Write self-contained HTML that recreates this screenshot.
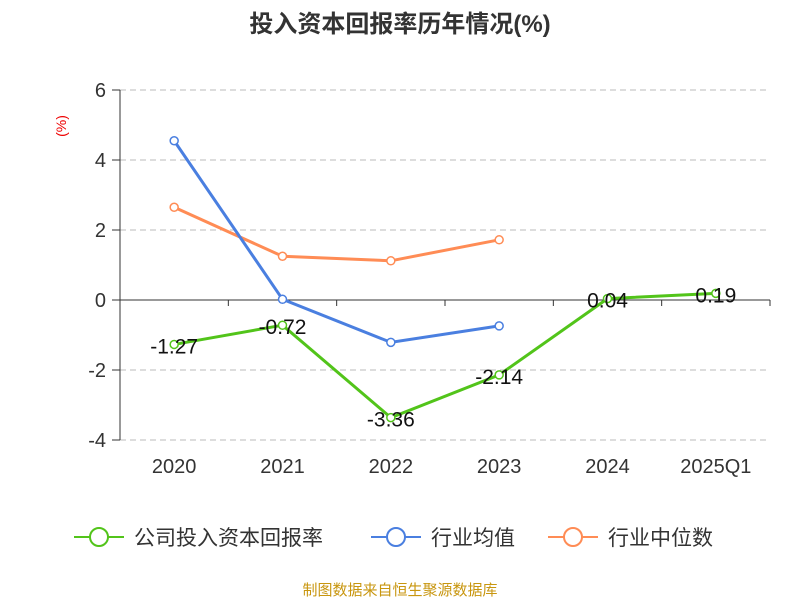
<!DOCTYPE html>
<html><head><meta charset="utf-8"><style>
body{margin:0;background:#fff;font-family:"Liberation Sans","Noto Sans CJK SC",sans-serif}
</style></head><body>
<svg width="800" height="600" xmlns="http://www.w3.org/2000/svg" font-family="Liberation Sans, Noto Sans CJK SC, sans-serif">
<text x="400" y="32" text-anchor="middle" font-size="24" font-weight="bold" fill="#333">投入资本回报率历年情况(%)</text>
<text x="66" y="126" font-size="14" fill="#e00" transform="rotate(-90 66 126)" text-anchor="middle">(%)</text>
<g id="grid"></g><g id="axes"></g><g id="series"></g>
<g>
<g><line x1="74" y1="537" x2="124" y2="537" stroke="#52c41a" stroke-width="2"/><circle cx="99" cy="537" r="9" fill="#fff" stroke="#52c41a" stroke-width="2"/><text x="134" y="545" font-size="21" fill="#333">公司投入资本回报率</text></g>
<g><line x1="371" y1="537" x2="421" y2="537" stroke="#4a7fe0" stroke-width="2"/><circle cx="396" cy="537" r="9" fill="#fff" stroke="#4a7fe0" stroke-width="2"/><text x="431" y="545" font-size="21" fill="#333">行业均值</text></g>
<g><line x1="548" y1="537" x2="598" y2="537" stroke="#ff8c55" stroke-width="2"/><circle cx="573" cy="537" r="9" fill="#fff" stroke="#ff8c55" stroke-width="2"/><text x="608" y="545" font-size="21" fill="#333">行业中位数</text></g>
</g>
<text x="400" y="595" text-anchor="middle" font-size="15" fill="#c8960f">制图数据来自恒生聚源数据库</text>
</svg>
<script>
const categories=["2020","2021","2022","2023","2024","2025Q1"];
const companyValues=[-1.27,-0.72,-3.36,-2.14,0.04,0.19];
const companyLabels=["-1.27","-0.72","-3.36","-2.14","0.04","0.19"];
const avgValues=[4.55,0.02,-1.21,-0.74];
const medianValues=[2.65,1.25,1.12,1.72];
const yTicks=[6,4,2,0,-2,-4];
const NS="http://www.w3.org/2000/svg";
const L=120,R=770,T=90,B=440,yMax=6,yMin=-4;
const bw=(R-L)/categories.length;
const x=i=>L+bw*(i+0.5);
const y=v=>T+(yMax-v)/(yMax-yMin)*(B-T);
function mk(tag,attrs,parent,txt){const e=document.createElementNS(NS,tag);for(const k in attrs)e.setAttribute(k,attrs[k]);if(txt!=null)e.textContent=txt;document.getElementById(parent).appendChild(e);return e;}
yTicks.forEach(t=>{
 if(t!==0){const g=mk('line',{x1:L,x2:R,y1:y(t),y2:y(t),stroke:'#bbb','stroke-dasharray':'6,4'},'grid');
 
 }
 const tk=mk('line',{x1:L-8,x2:L,y1:y(t),y2:y(t),stroke:'#333'},'axes');
 
 
 const lb=mk('text',{x:L-14,y:y(t)+7,'text-anchor':'end','font-size':20,fill:'#333'},'axes',String(t));
 
 
});
const ya=mk('line',{x1:L,x2:L,y1:T,y2:B,stroke:'#333'},'axes');


const xa=mk('line',{x1:L,x2:R,y1:y(0),y2:y(0),stroke:'#333'},'axes');


categories.forEach((c,i)=>{
 const tk=mk('line',{x1:L+bw*(i+1),x2:L+bw*(i+1),y1:y(0),y2:y(0)+6,stroke:'#333'},'axes');
 
 
 const lb=mk('text',{x:x(i),y:473,'text-anchor':'middle','font-size':20,fill:'#333'},'axes',c);
 
 
});
function series(vals,color,name){
 const p=mk('polyline',{points:vals.map((v,i)=>x(i)+','+y(v)).join(' '),fill:'none',stroke:color,'stroke-width':3},'series');
 
 
 vals.forEach((v,i)=>{const c=mk('circle',{cx:x(i),cy:y(v),r:4,fill:'#fff',stroke:color,'stroke-width':1.5},'series');
 
 });
}
series(medianValues,'#ff8c55','industry-median');
series(avgValues,'#4a7fe0','industry-avg');
series(companyValues,'#52c41a','company');
companyValues.forEach((v,i)=>{
 const t=mk('text',{x:x(i),y:y(v)+9,'text-anchor':'middle','font-size':21,fill:'#111'},'series',companyLabels[i]);
 
 
});
</script>
</body></html>
